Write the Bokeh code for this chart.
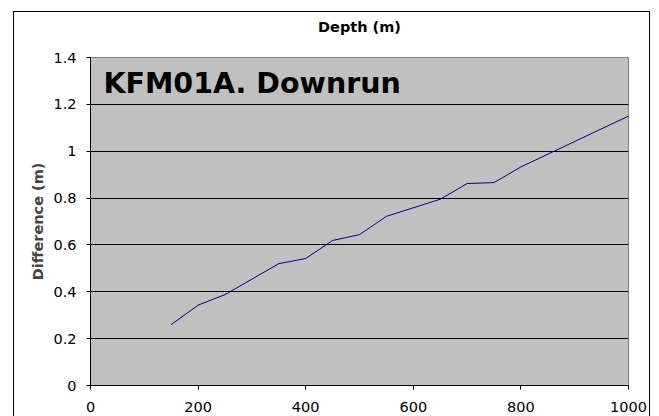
from bokeh.plotting import figure
from bokeh.models import Range1d, FixedTicker, NumeralTickFormatter, Label, LinearAxis
from bokeh.embed import file_html
from bokeh.resources import INLINE

# Measured depth (m) and difference (m) along the borehole
depth = [150, 200, 250, 350, 400, 450, 500, 550, 650, 700, 750, 800, 1000]
difference = [0.26, 0.343, 0.388, 0.52, 0.542, 0.619, 0.644, 0.722, 0.795, 0.862, 0.866, 0.933, 1.15]

x_ticks = [0, 200, 400, 600, 800, 1000]
y_ticks = [0, 0.2, 0.4, 0.6, 0.8, 1.0, 1.2, 1.4]

FONT = "DejaVu Sans"

p = figure(
    width=635, height=404,
    x_range=Range1d(0, 1000), y_range=Range1d(0, 1.4),
    output_backend="svg", toolbar_location=None,
    min_border_left=76, min_border_right=21,
    min_border_top=45, min_border_bottom=31,
)
# chart area sits inside a thin black frame
p.margin = (12, 0, 0, 14)
p.styles = {"outline": "1px solid black"}

p.background_fill_color = "#C0C0C0"
p.border_fill_color = "white"
p.outline_line_color = "#808080"
p.outline_line_width = 1

p.xgrid.grid_line_color = None
p.ygrid.grid_line_color = "black"
p.ygrid.grid_line_width = 1

for ax in (p.xaxis[0], p.yaxis[0]):
    ax.axis_line_color = "black"
    ax.major_tick_line_color = "black"
    ax.major_tick_in = 0
    ax.major_tick_out = 4
    ax.minor_tick_line_color = None
    ax.major_label_text_font = FONT
    ax.major_label_text_font_size = "14.5px"
    ax.major_label_text_color = "black"

p.xaxis.ticker = FixedTicker(ticks=x_ticks)
p.yaxis.ticker = FixedTicker(ticks=y_ticks)
p.yaxis.formatter = NumeralTickFormatter(format="0.[0]")
p.xaxis.major_label_standoff = 12
p.yaxis.major_label_standoff = 10

p.yaxis.axis_label = "Difference (m)"
p.yaxis.axis_label_text_font = FONT
p.yaxis.axis_label_text_font_style = "bold"
p.yaxis.axis_label_text_font_size = "14.5px"
p.yaxis.axis_label_standoff = 4

# Depth title carried by a bare axis along the top edge
top_axis = LinearAxis(
    ticker=FixedTicker(ticks=[]),
    axis_label="Depth (m)", axis_label_standoff=23,
    axis_label_text_font=FONT, axis_label_text_font_style="bold",
    axis_label_text_font_size="14.5px", axis_label_text_color="black",
    axis_line_color=None, major_tick_line_color=None, minor_tick_line_color=None,
)
p.add_layout(top_axis, "above")

p.line(depth, difference, line_color="#000080", line_width=1)

# Heading inside the plot area
p.add_layout(Label(x=24, y=1.289, text="KFM01A. Downrun", text_align="left",
                   text_baseline="alphabetic", text_font=FONT, text_font_style="bold",
                   text_font_size="28.5px", text_color="black"))

open("out.html", "w").write(file_html(p, INLINE))
